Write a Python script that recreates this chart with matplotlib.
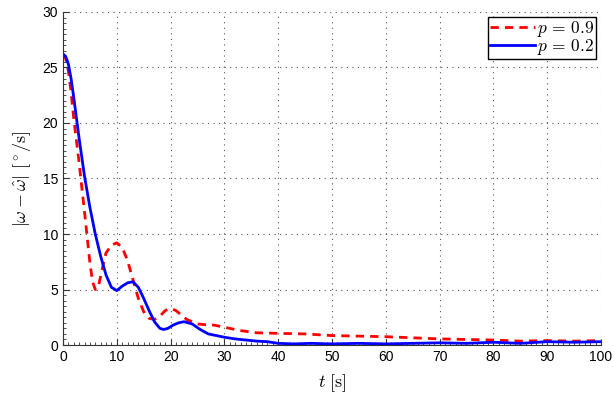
import numpy as np
import matplotlib.pyplot as plt
from matplotlib.ticker import MultipleLocator

plt.rcParams['font.family'] = ['Liberation Sans', 'DejaVu Sans']
plt.rcParams['mathtext.fontset'] = 'cm'

# p = 0.9 (red dashed)
t_hi = [0, 0.5, 1, 1.5, 2, 3, 4, 5, 5.5, 6, 6.5, 7, 7.5, 8, 9, 10, 11, 12, 13, 14, 15, 16,
        17, 18, 19, 20, 21, 22, 23, 25, 27, 28, 30, 33, 36, 40, 45, 50, 55, 60,
        65, 70, 75, 80, 85, 90, 95, 100]
err_hi = [26.2, 25.8, 24.7, 22.8, 20.4, 16.4, 12.0, 7.4, 5.7, 5.0, 5.1, 6.2, 7.3, 8.3, 9.0, 9.2,
          8.8, 7.6, 5.9, 4.2, 3.0, 2.4, 2.3, 2.6, 3.1, 3.3, 3.1, 2.7, 2.3, 1.9, 1.8,
          1.8, 1.6, 1.3, 1.1, 1.05, 1.0, 0.85, 0.8, 0.75, 0.65, 0.55, 0.5, 0.45,
          0.35, 0.4, 0.35, 0.4]

# p = 0.2 (blue solid)
t_lo = [0, 0.5, 1, 1.5, 2, 3, 4, 5, 6, 7, 8, 9, 10, 11, 12, 13, 14, 15, 16, 17, 18, 18.7,
        19.5, 20.5, 21.5, 22.5, 24, 25.5, 27, 28.5, 30, 32, 34, 36, 38, 40, 43, 46,
        50, 55, 60, 65, 70, 75, 80, 85, 90, 95, 100]
err_lo = [26.2, 26.0, 25.3, 24.0, 22.3, 18.6, 15.2, 12.4, 10.0, 8.0, 6.3, 5.2, 4.9, 5.3, 5.6, 5.7,
          5.2, 4.2, 3.1, 2.1, 1.5, 1.4, 1.5, 1.8, 2.0, 2.1, 1.9, 1.4, 1.0, 0.85, 0.7,
          0.55, 0.45, 0.35, 0.3, 0.15, 0.1, 0.15, 0.1, 0.15, 0.1, 0.15, 0.2, 0.15,
          0.25, 0.15, 0.3, 0.25, 0.3]

fig = plt.figure(figsize=(6.14, 3.99), dpi=100)
ax = fig.add_axes([0.1026, 0.1353, 0.8762, 0.8347])

ax.plot(t_hi, err_hi, '--', color='#ff0000', lw=2, dashes=(3, 2.2), label=r'$p\,=\,0.9$')
ax.plot(t_lo, err_lo, '-', color='#0000ff', lw=2, label=r'$p\,=\,0.2$')

ax.set_xlim(0, 100)
ax.set_ylim(0, 30)
ax.xaxis.set_major_locator(MultipleLocator(10))
ax.yaxis.set_major_locator(MultipleLocator(5))
ax.xaxis.set_minor_locator(MultipleLocator(1))
ax.yaxis.set_minor_locator(MultipleLocator(0.5))
ax.tick_params(which='both', direction='in', labelsize=10, color='#333333')
ax.tick_params(which='major', length=4)
ax.tick_params(which='minor', length=2)
for s in ['top', 'right']:
    ax.spines[s].set_visible(False)
for s in ['left', 'bottom']:
    ax.spines[s].set_color('#333333')

ax.grid(True, which='major', color='#555555', linestyle=(0, (1, 4)), lw=0.8)

ax.set_xlabel(r'$t\ \mathrm{[s]}$', fontsize=13, labelpad=6)
ax.set_ylabel(r'$|\omega - \hat{\omega}|\ [^\circ\mathrm{/s}]$', fontsize=13, labelpad=6)

leg = ax.legend(loc='upper right', fontsize=12.5, frameon=True, fancybox=False,
                edgecolor='black', framealpha=1, handlelength=2.6, handletextpad=0.1,
                borderpad=0.1, labelspacing=-0.1, borderaxespad=0.3)
leg.get_frame().set_linewidth(1.0)

plt.savefig('out.png', dpi=100)
